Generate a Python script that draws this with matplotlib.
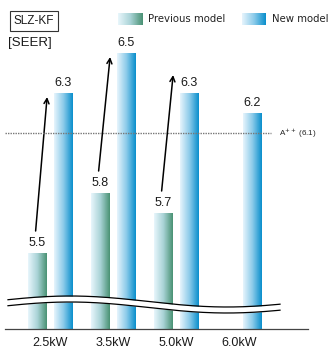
import matplotlib
matplotlib.use('Agg')
import matplotlib.pyplot as plt
import numpy as np
from matplotlib.colors import LinearSegmentedColormap

# SEER values per capacity (previous model has no 6.0kW unit)
capacities = ['2.5kW', '3.5kW', '5.0kW', '6.0kW']
previous = [5.5, 5.8, 5.7, None]
new = [6.3, 6.5, 6.3, 6.2]
arrow_tips = [6.28, 6.48, 6.39]
a_pp = 6.1

plt.rcParams['font.family'] = ['Liberation Sans', 'DejaVu Sans']

prev_cmap = LinearSegmentedColormap.from_list('prev', ['#e8f6fc', '#a9d3d6', '#4a9274'])
new_cmap = LinearSegmentedColormap.from_list('new', ['#e6f4fc', '#8ccbea', '#0a8fcc'])
grad = np.linspace(0, 1, 64).reshape(1, -1)

fig = plt.figure(figsize=(3.31, 3.49), dpi=100)
W, H = 331, 349
ax = fig.add_axes([5 / W, 20 / H, 303 / W, 329 / H])
ymin, ymax = 5.12, 6.765
ax.set_xlim(-0.722, 4.087)
ax.set_ylim(ymin, ymax)

x = np.arange(len(capacities))
off, width = 0.206, 0.30


def gradient_bars(xs, vals, cmap):
    bars = ax.bar(xs, np.array(vals) - ymin, width, bottom=ymin,
                  facecolor='none', edgecolor='none')
    for b in bars:
        im = ax.imshow(grad, cmap=cmap, aspect='auto', zorder=1,
                       extent=[b.get_x(), b.get_x() + b.get_width(), ymin, b.get_y() + b.get_height()])
        im.set_clip_path(b)
    return bars


pidx = [i for i, v in enumerate(previous) if v is not None]
pvals = [previous[i] for i in pidx]
gradient_bars(x[pidx] - off, pvals, prev_cmap)
gradient_bars(x + off, new, new_cmap)

for i, v in zip(pidx, pvals):
    ax.annotate(f'{v}', (x[i] - off, v), xytext=(0, 3), textcoords='offset points',
                ha='center', va='bottom', fontsize=9, color='#1a1a1a')
for i, v in enumerate(new):
    ax.annotate(f'{v}', (x[i] + off, v), xytext=(0, 3), textcoords='offset points',
                ha='center', va='bottom', fontsize=9, color='#1a1a1a')

# improvement arrows
for i, tip in zip(pidx, arrow_tips):
    ax.annotate('', xy=(x[i] + off - width / 2 - 0.11, tip),
                xytext=(x[i] - off - 0.03, previous[i] + 0.11),
                arrowprops=dict(arrowstyle='->', color='black', lw=1.1,
                                shrinkA=0, shrinkB=0, mutation_scale=9))

# A++ threshold line
ax.plot([-0.722, 3.5], [a_pp, a_pp], ls=(0, (1, 0.8)), color='#777777', lw=1.0, zorder=3)
ax.text(3.62, a_pp, r'A$^{++}$ (6.1)', fontsize=5.8, va='center', ha='left', color='#222222')

# axis break wave
px = np.linspace(8, 280, 200)
wy = 301.5 - 5.5 * np.cos(np.pi * (px - 70) / 157)
wx = (px - 50.5) / 63
upper = 6.5 - (wy - 53) / 200
lower = 6.5 - (wy + 6 - 53) / 200
ax.fill_between(wx, lower, upper, color='white', zorder=4, lw=0)
ax.plot(wx, upper, color='black', lw=0.9, zorder=5)
ax.plot(wx, lower, color='black', lw=0.9, zorder=5)

for s in ['top', 'right', 'left']:
    ax.spines[s].set_visible(False)
ax.spines['bottom'].set_color('#444444')
ax.spines['bottom'].set_linewidth(0.9)
ax.set_yticks([])
ax.set_xticks(x, capacities)
ax.tick_params(axis='x', length=0, pad=6, labelsize=9, labelcolor='#1a1a1a')

# header
fig.text(34 / W, 1 - 21 / H, 'SLZ-KF', fontsize=8.5, ha='center', va='center', color='#1a1a1a',
         bbox=dict(boxstyle='square,pad=0.35', fc='white', ec='#333333', lw=0.8))
fig.text(8 / W, 1 - 43 / H, '[SEER]', fontsize=9.5, ha='left', va='center', color='#1a1a1a')

# legend swatches
for x0, cmap, label in [(118, prev_cmap, 'Previous model'), (242, new_cmap, 'New model')]:
    sw = fig.add_axes([x0 / W, 1 - 25 / H, 24 / W, 12 / H])
    sw.imshow(grad, cmap=cmap, aspect='auto')
    sw.axis('off')
    fig.text((x0 + 30) / W, 1 - 19 / H, label, fontsize=7.3, ha='left', va='center',
             color='#222222', family=['DejaVu Sans'])

fig.savefig('out.png', dpi=100)
